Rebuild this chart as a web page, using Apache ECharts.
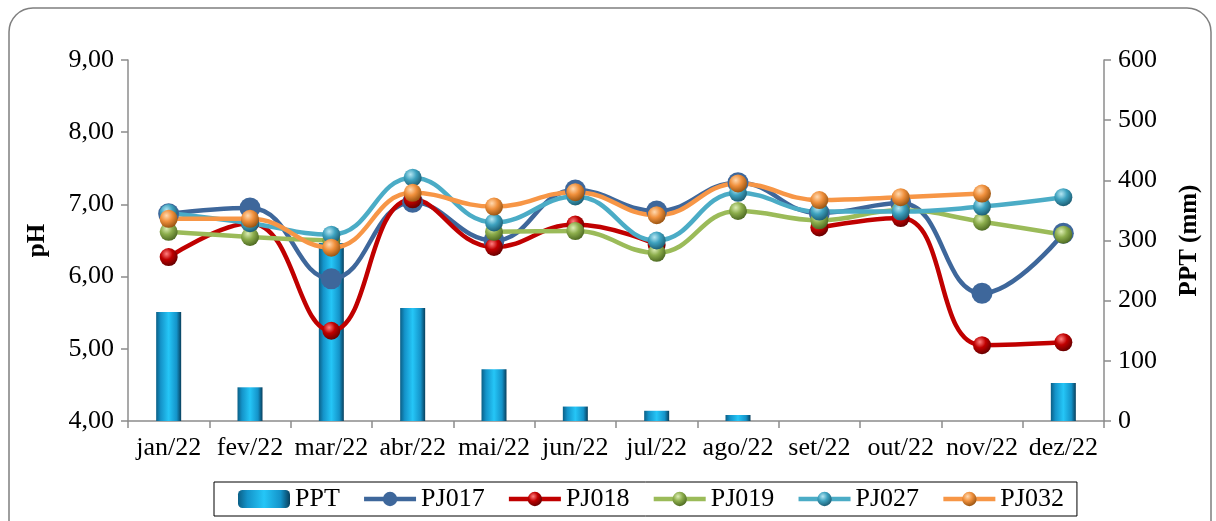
<!DOCTYPE html>
<html>
<head>
<meta charset="utf-8">
<script src="https://cdn.jsdelivr.net/npm/echarts@6/dist/echarts.min.js"></script>
<style>
  html, body { margin: 0; padding: 0; background: #fff; }
  #chart { width: 1216px; height: 521px; }
</style>
</head>
<body>
<div id="chart"></div>
<script>
// Monthly categories
const months = ['jan/22', 'fev/22', 'mar/22', 'abr/22', 'mai/22', 'jun/22',
                'jul/22', 'ago/22', 'set/22', 'out/22', 'nov/22', 'dez/22'];

// Precipitation (mm)
const ppt = [181, 56, 296, 188, 86, 24, 17, 10, 0, 0, 0, 63];

// pH per monitoring point
const pj017 = [6.87, 6.95, 5.97, 7.03, 6.50, 7.20, 6.91, 7.30, 6.88, 7.02, 5.77, 6.60];
const pj018 = [6.27, 6.74, 5.25, 7.07, 6.41, 6.72, 6.44, null, 6.68, 6.81, 5.05, 5.09];
const pj019 = [6.62, 6.55, 6.50, null, 6.62, 6.63, 6.33, 6.91, 6.78, 6.92, 6.76, 6.58];
const pj027 = [6.88, 6.74, 6.58, 7.37, 6.75, 7.11, 6.50, 7.16, 6.90, 6.90, 6.97, 7.10];
const pj032 = [6.80, 6.80, 6.40, 7.16, 6.97, 7.17, 6.85, 7.29, 7.06, 7.10, 7.15, null];

// Axis ticks
const phTicks = { min: 4, max: 9, interval: 1 };
const pptTicks = { min: 0, max: 600, interval: 100 };

const FONT = '"Liberation Serif", "Times New Roman", serif';
const AXIS_GRAY = '#8c8c8c';

function sphere(light, base, dark) {
  return {
    type: 'radial', x: 0.38, y: 0.32, r: 0.72,
    colorStops: [
      { offset: 0, color: light },
      { offset: 0.45, color: base },
      { offset: 1, color: dark }
    ]
  };
}

function lineSeries(name, data, lineColor, markerColor, size) {
  return {
    name: name,
    type: 'line',
    yAxisIndex: 0,
    data: data,
    smooth: 0.45,
    connectNulls: false,
    symbol: 'circle',
    symbolSize: size,
    lineStyle: { color: lineColor, width: 4.5 },
    itemStyle: { color: markerColor, borderWidth: 0 },
    emphasis: { disabled: true },
    z: 3
  };
}

const chart = echarts.init(document.getElementById('chart'), null, { renderer: 'canvas' });

chart.setOption({
  animation: false,
  backgroundColor: '#ffffff',
  textStyle: { fontFamily: FONT, color: '#000' },
  graphic: [{
    type: 'rect',
    shape: { x: 9, y: 8, width: 1202, height: 560, r: 24 },
    style: { fill: 'none', stroke: '#7f7f7f', lineWidth: 1.5 },
    silent: true,
    z: -10
  }],
  legend: {
    left: 214,
    top: 482,
    padding: [4, 13, 4, 24],
    itemGap: 22,
    itemWidth: 52,
    itemHeight: 18,
    borderColor: '#000',
    borderWidth: 1,
    lineStyle: { width: 4.5 },
    textStyle: { fontFamily: FONT, fontSize: 26, color: '#000', padding: [2, 0, 0, 0] },
    data: [
      { name: 'PPT', itemStyle: { borderWidth: 0 } },
      'PJ017', 'PJ018', 'PJ019', 'PJ027', 'PJ032'
    ]
  },
  grid: { left: 128, right: 112, top: 60, bottom: 100, containLabel: false },
  xAxis: {
    type: 'category',
    data: months,
    boundaryGap: true,
    axisLine: { lineStyle: { color: AXIS_GRAY, width: 1.5 } },
    axisTick: { show: true, length: 7, lineStyle: { color: AXIS_GRAY, width: 1.5 } },
    axisLabel: { fontFamily: FONT, fontSize: 26, color: '#000', margin: 14, interval: 0 },
    splitLine: { show: false }
  },
  yAxis: [{
    type: 'value',
    position: 'left',
    min: phTicks.min, max: phTicks.max, interval: phTicks.interval,
    name: 'pH',
    nameLocation: 'middle',
    nameRotate: 90,
    nameGap: 78,
    nameTextStyle: { fontFamily: FONT, fontSize: 25, fontWeight: 'bold', color: '#000' },
    axisLine: { show: true, lineStyle: { color: AXIS_GRAY, width: 1.5 } },
    axisTick: { show: true, length: 7, lineStyle: { color: AXIS_GRAY, width: 1.5 } },
    axisLabel: {
      fontFamily: FONT, fontSize: 26, color: '#000', margin: 14,
      formatter: v => v.toFixed(2).replace('.', ',')
    },
    splitLine: { show: false }
  }, {
    type: 'value',
    position: 'right',
    min: pptTicks.min, max: pptTicks.max, interval: pptTicks.interval,
    name: 'PPT (mm)',
    nameLocation: 'middle',
    nameRotate: 90,
    nameGap: 73,
    nameTextStyle: { fontFamily: FONT, fontSize: 25, fontWeight: 'bold', color: '#000' },
    axisLine: { show: true, lineStyle: { color: AXIS_GRAY, width: 1.5 } },
    axisTick: { show: true, length: 7, lineStyle: { color: AXIS_GRAY, width: 1.5 } },
    axisLabel: { fontFamily: FONT, fontSize: 26, color: '#000', margin: 14 },
    splitLine: { show: false }
  }],
  series: [{
    name: 'PPT',
    type: 'bar',
    yAxisIndex: 1,
    data: ppt,
    barWidth: 25,
    itemStyle: {
      color: {
        type: 'linear', x: 0, y: 0, x2: 1, y2: 0,
        colorStops: [
          { offset: 0, color: '#0b5f86' },
          { offset: 0.18, color: '#1493c9' },
          { offset: 0.5, color: '#25c6f7' },
          { offset: 0.82, color: '#1493c9' },
          { offset: 1, color: '#083f5c' }
        ]
      }
    },
    emphasis: { disabled: true },
    z: 1
  },
    lineSeries('PJ017', pj017, '#3e679b', '#3e679b', 21),
    lineSeries('PJ018', pj018, '#c00000', sphere('#ff8080', '#c00000', '#600000'), 18),
    lineSeries('PJ019', pj019, '#9bbb59', sphere('#dcedb4', '#8cad4c', '#4a6620'), 18),
    lineSeries('PJ027', pj027, '#4bacc6', sphere('#b5e6f2', '#3ea2bf', '#1b5a70'), 18),
    lineSeries('PJ032', pj032, '#f79646', sphere('#ffd9b0', '#f0903c', '#93500f'), 18)
  ]
});
</script>
</body>
</html>
